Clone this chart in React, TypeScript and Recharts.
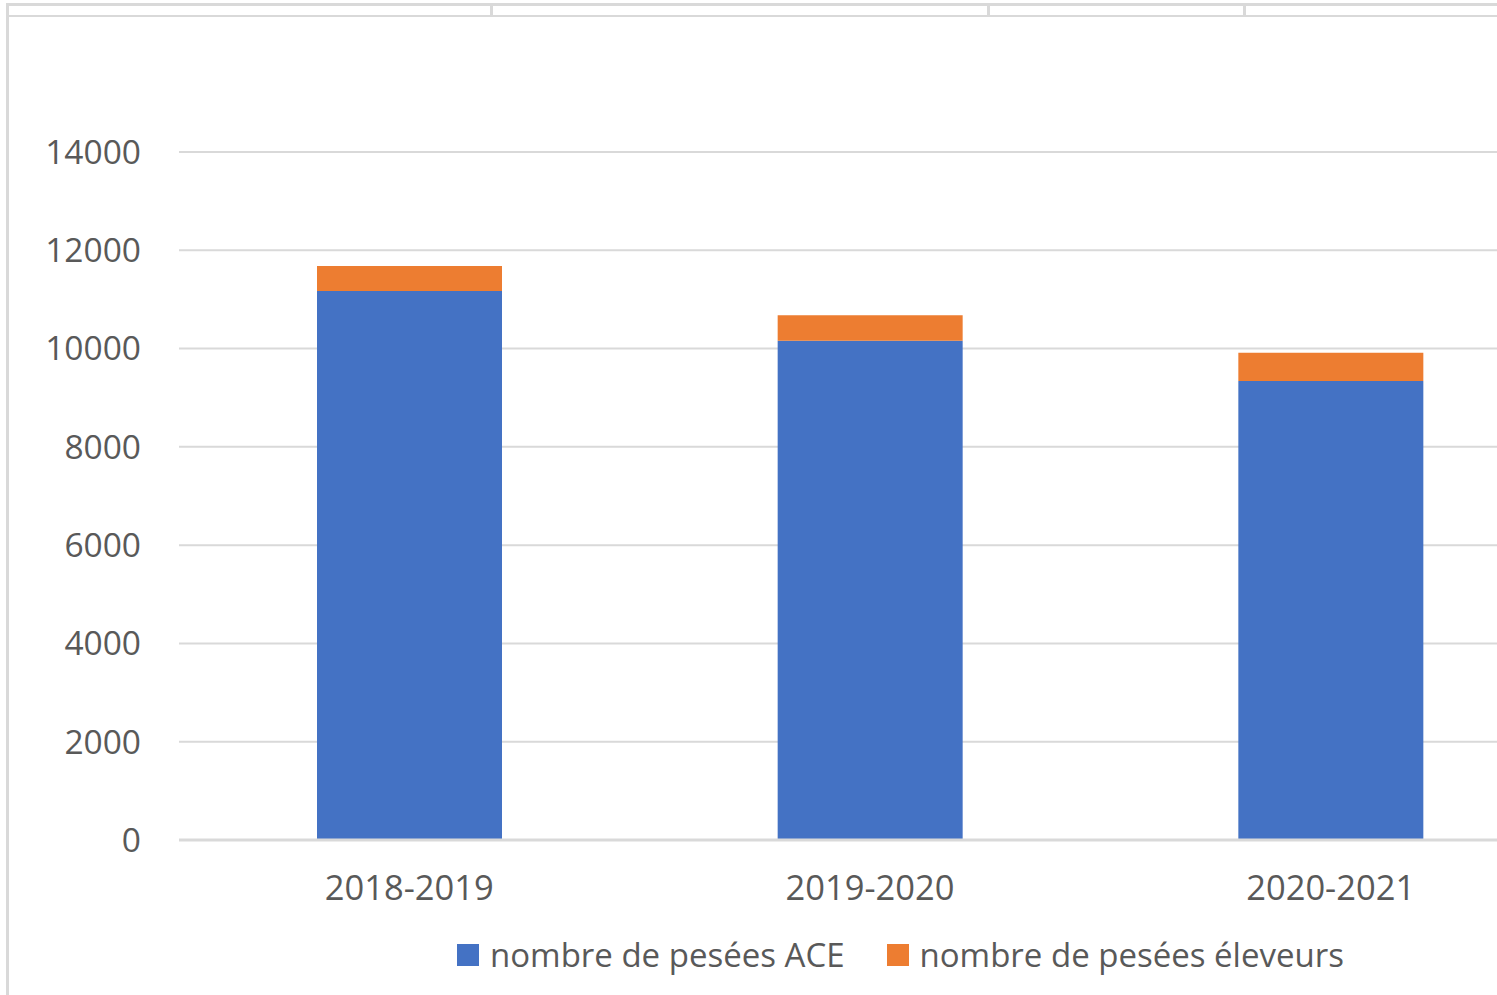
import React from "react";
import { BarChart, Bar, XAxis, YAxis, CartesianGrid } from "recharts";

const seasons = ["2018-2019", "2019-2020", "2020-2021"];
const peseesACE = [11170, 10160, 9340];
const peseesEleveurs = [510, 520, 575];
const yTicks = [0, 2000, 4000, 6000, 8000, 10000, 12000, 14000];
const seriesNames = ["nombre de pesées ACE", "nombre de pesées éleveurs"];

const data = seasons.map((s, i) => ({
    season: s,
    ace: peseesACE[i],
    eleveurs: peseesEleveurs[i],
}));

const FONT = "'Open Sans', sans-serif";
const TEXT = "#595959";
const GRID = "#d9d9d9";
const BLUE = "#4472c4";
const ORANGE = "#ed7d31";

function LegendBox() {
    const colors = [BLUE, ORANGE];
    return (
        <div style={{ position: "absolute", left: 457, top: 937, display: "flex", alignItems: "center", fontFamily: FONT, fontSize: 33, color: TEXT, whiteSpace: "nowrap" }}>
            {seriesNames.map((n, i) => (
                <div key={n} style={{ display: "flex", alignItems: "center", marginRight: i === 0 ? 42 : 0 }}>
                    <span style={{ width: 22, height: 22, background: colors[i], display: "inline-block", marginRight: 11 }} />
                    <span style={{ lineHeight: "36px" }}>{n}</span>
                </div>
            ))}
        </div>
    );
}

export default function App() {
    return (
        <div style={{ position: "absolute", left: 0, top: 0, width: 1497, height: 995, overflow: "hidden", background: "#fff" }}>
            {/* sheet borders */}
            <div style={{ position: "absolute", left: 6, top: 3, width: 1491, height: 3, background: GRID }} />
            <div style={{ position: "absolute", left: 6, top: 15, width: 1491, height: 2, background: GRID }} />
            <div style={{ position: "absolute", left: 6, top: 3, width: 3, height: 992, background: GRID }} />
            {[490, 987, 1243].map((x) => (
                <div key={x} style={{ position: "absolute", left: x, top: 3, width: 3, height: 13, background: GRID }} />
            ))}
            <div style={{ position: "absolute", left: 0, top: 0 }}>
                <BarChart
                    width={1561}
                    height={995}
                    data={data}
                    margin={{ top: 152, right: 0, bottom: 125, left: 0 }}
                    barCategoryGap={138}
                >
                    <CartesianGrid vertical={false} stroke={GRID} strokeWidth={2} />
                    <XAxis
                        dataKey="season"
                        axisLine={{ stroke: GRID, strokeWidth: 3 }}
                        tickLine={false}
                        tickSize={0}
                        tickMargin={36}
                        tick={{ fill: TEXT, fontSize: 34.5, fontFamily: FONT }}
                    />
                    <YAxis
                        width={179}
                        domain={[0, 14000]}
                        ticks={yTicks}
                        axisLine={false}
                        tickLine={false}
                        tickSize={0}
                        tickMargin={38}
                        tick={{ fill: TEXT, fontSize: 33.5, fontFamily: FONT }}
                    />
                    <Bar dataKey="ace" name={seriesNames[0]} stackId="a" fill={BLUE} isAnimationActive={false} />
                    <Bar dataKey="eleveurs" name={seriesNames[1]} stackId="a" fill={ORANGE} isAnimationActive={false} />
                </BarChart>
            </div>
            <LegendBox />
        </div>
    );
}
